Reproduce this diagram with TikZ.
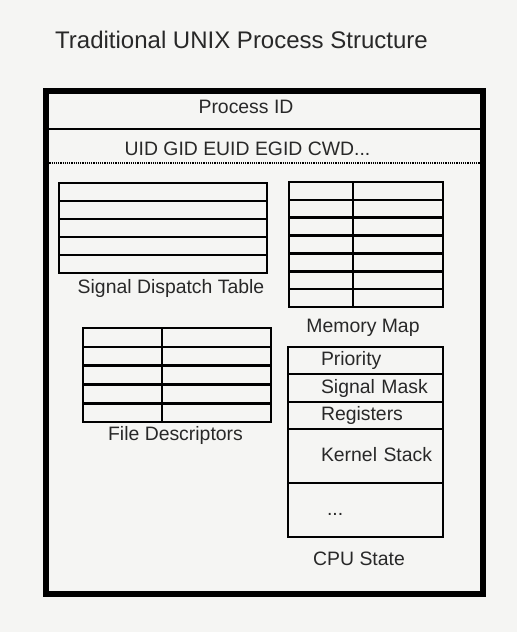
\documentclass[tikz,border=0pt]{standalone}
\usepackage{fontspec}
\setmainfont{Liberation Sans}
\usepackage{xcolor}
\usepackage{tikz}
\usetikzlibrary{positioning, calc}

\definecolor{bgpaper}{RGB}{245,245,243}
\definecolor{inkgray}{RGB}{40,40,40}
\newcommand\procfont{\fontsize{19.4}{23}\selectfont}
\newcommand\bannerfont{\fontsize{24}{28}\selectfont}

\begin{document}
\begin{tikzpicture}[
  x=1pt, y=-1pt,
  every node/.style={text=inkgray, font=\procfont, inner sep=0pt},
  frame/.style={
    rectangle, draw=black, line width=6.5pt,
    minimum width=437pt, minimum height=503pt,
  },
  gridbox/.style={
    rectangle, draw=black, line width=2.6pt,
    outer sep=0pt, anchor=north west,
  },
  rowline/.style={draw=black, line width=2.6pt},
  cell/.style={
    rectangle, draw=black, line width=2.6pt, outer sep=0pt,
    minimum width=155pt, text width=155pt, align=left,
    text height=14pt, text depth=4pt,
    execute at begin node={\hspace*{33pt}},
  },
  caption/.style={text height=14pt, text depth=4pt},
]
\fill[bgpaper] (0,0) rectangle (517,632);

\node[anchor=base west, font=\bannerfont] (title) at (55,48)
  {Traditional UNIX Process Structure};

% Outer process box with the two header rows
\node[frame] (proc) at (264.5,342.5) {};
\node[anchor=base] (pid) at (246,113) {Process ID};
\node[anchor=base] (uid) at (247.5,155) {UID GID EUID EGID CWD...};
\coordinate (pidrule) at (0,129);
\coordinate (uidrule) at (0,163);
\draw[rowline] (proc.west |- pidrule) -- (proc.east |- pidrule);
\draw[black, line width=1.6pt, dash pattern=on 1.2pt off 1pt]
  (proc.west |- uidrule) -- (proc.east |- uidrule);

% Signal dispatch table: 5 rows
\node[gridbox, minimum width=208pt, minimum height=90pt] (sdt) at (59,183) {};
\foreach \i in {1,...,4}
  \draw[rowline] ([yshift=-\i*18pt]sdt.north west) -- ([yshift=-\i*18pt]sdt.north east);
\node[caption, below=6pt of sdt, xshift=8pt] (sdtcap) {Signal Dispatch Table};

% Memory map: 7 rows, 2 columns
\node[gridbox, minimum width=154pt, minimum height=125pt] (mmap) at (289,182) {};
\foreach \i in {1,...,6}
  \draw[rowline] ([yshift=-\i*17.86pt]mmap.north west) -- ([yshift=-\i*17.86pt]mmap.north east);
\draw[rowline] ([xshift=64pt]mmap.north west) -- ([xshift=64pt]mmap.south west);
\node[caption, below=11pt of mmap, xshift=-3pt] (mmapcap) {Memory Map};

% File descriptors: 5 rows, 2 columns
\node[gridbox, minimum width=188pt, minimum height=94pt] (fdt) at (83,328) {};
\foreach \i in {1,...,4}
  \draw[rowline] ([yshift=-\i*18.8pt]fdt.north west) -- ([yshift=-\i*18.8pt]fdt.north east);
\draw[rowline] ([xshift=79pt]fdt.north west) -- ([xshift=79pt]fdt.south west);
\node[caption, below=4pt of fdt, xshift=-1.5pt] (fdtcap) {File Descriptors};

% CPU state stack
\node[cell, minimum height=27pt, anchor=north west] (prio) at (288,347) {Priority};
\node[cell, minimum height=28pt, below=0pt of prio]   (mask)   {Signal Mask};
\node[cell, minimum height=27pt, below=0pt of mask]   (regs)   {Registers};
\node[cell, minimum height=54pt, below=0pt of regs]   (kstack) {Kernel Stack};
\node[cell, minimum height=54pt, below=0pt of kstack] (more)   {\hspace*{6pt}...};
\node[caption, below=14pt of more, xshift=-6.5pt] (cpucap) {CPU State};
\end{tikzpicture}
\end{document}
